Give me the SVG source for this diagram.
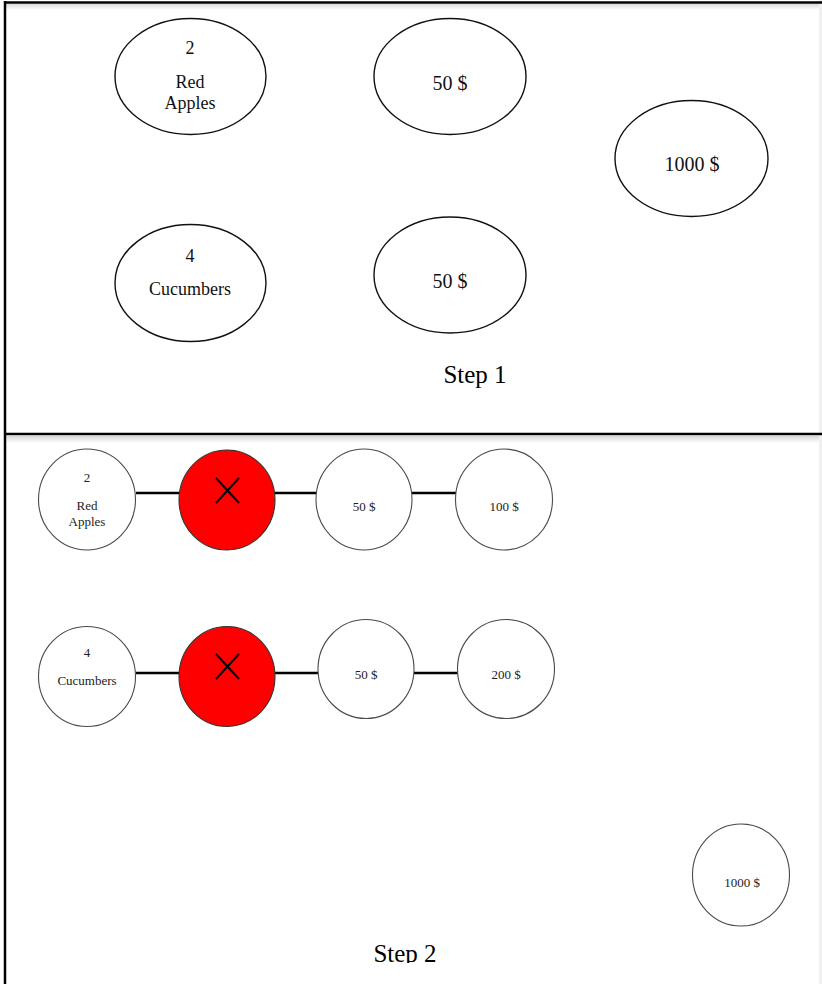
<svg xmlns="http://www.w3.org/2000/svg" width="822" height="984" viewBox="0 0 822 984">
<style>
.bg{fill:#ffffff}
.frame{stroke:#000;stroke-width:2.5;fill:none}
.e1{fill:#fff;stroke:#111;stroke-width:1.4}
.c2{fill:#fff;stroke:#4a4a4a;stroke-width:1.1}
.red{fill:#ff0000;stroke:#333;stroke-width:1.1}
.xm{stroke:#000;stroke-width:2;fill:none}
.conn{stroke:#000;stroke-width:2.5;fill:none}
.t1{font-family:"Liberation Serif","Times New Roman",serif;font-size:18px;fill:#111;text-anchor:middle}
.t1v{font-family:"Liberation Serif","Times New Roman",serif;font-size:20px;fill:#111;text-anchor:middle}
.t2{font-family:"Liberation Serif","Times New Roman",serif;font-size:13px;fill:#222;text-anchor:middle}
.step{font-family:"Liberation Serif","Times New Roman",serif;font-size:25px;fill:#000;text-anchor:middle}
</style>
<defs>
<linearGradient id="shade" x1="0" y1="0" x2="0" y2="1">
<stop offset="0" stop-color="#d8d8d8"/>
<stop offset="1" stop-color="#ffffff"/>
</linearGradient>
<clipPath id="clipBottom"><rect x="0" y="0" width="822" height="963"/></clipPath>
</defs>
<rect class="bg" x="0" y="0" width="822" height="984"/>
<rect x="6" y="4" width="816" height="6" fill="url(#shade)"/>
<rect x="6" y="436" width="816" height="7" fill="url(#shade)"/>
<rect x="819" y="0" width="3" height="984" fill="#f0f0f0"/>
<g id="frame">
<line class="frame" x1="4" y1="2.5" x2="822" y2="2.5"/>
<line class="frame" x1="5" y1="1" x2="5" y2="984"/>
<line class="frame" x1="4" y1="434" x2="822" y2="434"/>
</g>

<g id="step1">
<g id="s1-apples">
<ellipse class="e1" cx="190.5" cy="76.5" rx="75.5" ry="58"/>
<text class="t1" x="190" y="54">2</text>
<text class="t1" x="190" y="88">Red</text>
<text class="t1" x="190" y="109">Apples</text>
</g>
<g id="s1-50a">
<ellipse class="e1" cx="450" cy="76.5" rx="76" ry="58"/>
<text class="t1v" x="450" y="90">50 $</text>
</g>
<g id="s1-1000">
<ellipse class="e1" cx="691.5" cy="158.5" rx="76.5" ry="58"/>
<text class="t1v" x="692" y="171">1000 $</text>
</g>
<g id="s1-cucumbers">
<ellipse class="e1" cx="190.5" cy="283" rx="75.5" ry="58.5"/>
<text class="t1" x="190" y="262">4</text>
<text class="t1" x="190" y="295">Cucumbers</text>
</g>
<g id="s1-50b">
<ellipse class="e1" cx="450" cy="275" rx="76" ry="58"/>
<text class="t1v" x="450" y="288">50 $</text>
</g>
<text class="step" x="475" y="383">Step 1</text>
</g>

<g id="connectors">
<line class="conn" x1="136" y1="493" x2="180" y2="493"/>
<line class="conn" x1="275" y1="493" x2="317" y2="493"/>
<line class="conn" x1="412" y1="493" x2="456" y2="493"/>
<line class="conn" x1="136" y1="673" x2="180" y2="673"/>
<line class="conn" x1="275" y1="673" x2="319" y2="673"/>
<line class="conn" x1="414" y1="673" x2="458" y2="673"/>
</g>

<g id="step2">
<g id="s2-apples">
<ellipse class="c2" cx="87" cy="499.5" rx="48.5" ry="50.5"/>
<text class="t2" x="87" y="482">2</text>
<text class="t2" x="87" y="510">Red</text>
<text class="t2" x="87" y="526">Apples</text>
</g>
<g id="s2-x1">
<ellipse class="red" cx="227" cy="500" rx="48" ry="50"/>
<line class="xm" x1="216" y1="478" x2="239" y2="503"/>
<line class="xm" x1="239" y1="478" x2="216" y2="503"/>
</g>
<g id="s2-50a">
<ellipse class="c2" cx="364" cy="499.5" rx="48" ry="50.5"/>
<text class="t2" x="364" y="511">50 $</text>
</g>
<g id="s2-100">
<ellipse class="c2" cx="504" cy="499.5" rx="48.5" ry="50.5"/>
<text class="t2" x="504" y="511">100 $</text>
</g>
<g id="s2-cucumbers">
<ellipse class="c2" cx="87" cy="676.5" rx="48.5" ry="50"/>
<text class="t2" x="87" y="657">4</text>
<text class="t2" x="87" y="685">Cucumbers</text>
</g>
<g id="s2-x2">
<ellipse class="red" cx="227" cy="676.5" rx="48" ry="50"/>
<line class="xm" x1="216" y1="654" x2="239" y2="679"/>
<line class="xm" x1="239" y1="654" x2="216" y2="679"/>
</g>
<g id="s2-50b">
<ellipse class="c2" cx="366" cy="669" rx="48" ry="49.5"/>
<text class="t2" x="366" y="679">50 $</text>
</g>
<g id="s2-200">
<ellipse class="c2" cx="506" cy="669" rx="48.5" ry="49.5"/>
<text class="t2" x="506" y="679">200 $</text>
</g>
<g id="s2-1000">
<ellipse class="c2" cx="741" cy="875" rx="48.5" ry="51"/>
<text class="t2" x="742" y="887">1000 $</text>
</g>
<text class="step" x="405" y="962" clip-path="url(#clipBottom)">Step 2</text>
</g>
</svg>
